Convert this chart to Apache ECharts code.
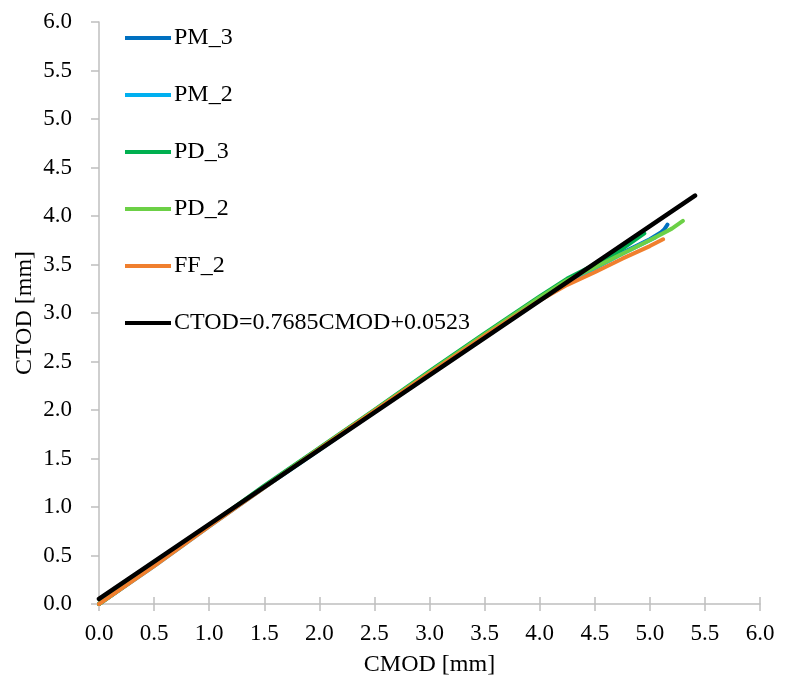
<!DOCTYPE html>
<html>
<head>
<meta charset="UTF-8">
<title>CTOD - CMOD</title>
<script src="https://cdn.jsdelivr.net/npm/echarts@6/dist/echarts.min.js"></script>
<style>
  body { margin: 0; background: #fff; }
  #chart { width: 786px; height: 690px; }
</style>
</head>
<body>
<div id="chart"></div>
<script>
// series names (legend order)
var names = ['PM_3', 'PM_2', 'PD_3', 'PD_2', 'FF_2', 'CTOD=0.7685CMOD+0.0523'];
var colors = ['#0070C0', '#00B0F0', '#00B050', '#6CD046', '#F07F2E', '#000000'];

// [CMOD, CTOD] readings, mm
var pm3 = [[0, 0], [0.5, 0.40], [1.0, 0.81], [1.5, 1.21], [2.0, 1.60], [2.5, 1.99], [3.0, 2.38],
  [3.5, 2.77], [3.75, 2.96], [4.0, 3.15], [4.25, 3.32], [4.5, 3.47], [4.75, 3.62], [5.0, 3.76],
  [5.1, 3.83], [5.13, 3.86], [5.16, 3.91]];
var pm2 = [[0, 0], [0.5, 0.39], [1.0, 0.80], [1.5, 1.20], [2.0, 1.59], [2.5, 1.98], [3.0, 2.37],
  [3.5, 2.76], [3.75, 2.95], [4.0, 3.14], [4.25, 3.31], [4.5, 3.46], [4.75, 3.61], [5.05, 3.78]];
var pd3 = [[0, 0], [0.5, 0.40], [1.0, 0.81], [1.5, 1.22], [2.0, 1.61], [2.5, 2.00], [3.0, 2.40],
  [3.5, 2.79], [3.75, 2.98], [4.0, 3.17], [4.25, 3.355], [4.5, 3.50], [4.75, 3.66], [4.95, 3.82]];
var pd2 = [[0, 0], [0.5, 0.40], [1.0, 0.81], [1.5, 1.21], [2.0, 1.605], [2.5, 1.995], [3.0, 2.39],
  [3.5, 2.78], [3.75, 2.97], [4.0, 3.16], [4.25, 3.34], [4.5, 3.47], [4.75, 3.61], [5.0, 3.75],
  [5.2, 3.87], [5.3, 3.95]];
var ff2 = [[0, 0], [0.5, 0.39], [1.0, 0.80], [1.5, 1.20], [2.0, 1.60], [2.5, 1.99], [3.0, 2.38],
  [3.5, 2.765], [3.75, 2.95], [4.0, 3.13], [4.25, 3.29], [4.5, 3.42], [4.75, 3.56], [5.0, 3.69],
  [5.12, 3.76]];
// linear fit
var fit = [[0, 0.0523], [5.41, 4.21]];

var ticks = ['0.0', '0.5', '1.0', '1.5', '2.0', '2.5', '3.0', '3.5', '4.0', '4.5', '5.0', '5.5', '6.0'];

var serif = '"Liberation Serif", "DejaVu Serif", serif';
var axisGray = '#BFBFBF';

var chart = echarts.init(document.getElementById('chart'));

function line(i, data) {
  return {
    name: names[i],
    type: 'line',
    data: data,
    showSymbol: false,
    symbol: 'none',
    smooth: false,
    z: i == 5 ? 10 : 2 + i,
    lineStyle: { color: colors[i], width: i == 5 ? 4.5 : 4, cap: 'round' },
    itemStyle: { color: colors[i] }
  };
}

var option = {
  animation: false,
  backgroundColor: '#fff',
  grid: { left: 99, right: 26, top: 22, bottom: 86 },
  legend: {
    data: names,
    orient: 'vertical',
    left: 120,
    top: 21,
    icon: 'rect',
    itemWidth: 46,
    itemHeight: 4,
    itemGap: 33,
    textStyle: { fontFamily: serif, fontSize: 24, color: '#000', padding: [0, 0, 0, -2] }
  },
  xAxis: [{
    type: 'value',
    min: 0, max: 6, interval: 0.5,
    name: 'CMOD [mm]',
    nameLocation: 'middle',
    nameGap: 49,
    nameMoveOverlap: false,
    nameTextStyle: { fontFamily: serif, fontSize: 24, color: '#000' },
    axisLine: { show: true, lineStyle: { color: axisGray, width: 1.5 } },
    axisTick: { show: true, length: 7, lineStyle: { color: axisGray, width: 1.5 } },
    splitLine: { show: false },
    axisLabel: {
      margin: 18, fontFamily: serif, fontSize: 23, color: '#000',
      formatter: function (v) { return ticks[Math.round(v / 0.5)]; }
    }
  }, {
    type: 'value',
    position: 'bottom',
    min: 0, max: 6, interval: 0.5,
    axisLine: { show: false },
    axisTick: { show: true, inside: true, length: 7, lineStyle: { color: axisGray, width: 1.5 } },
    axisLabel: { show: false },
    splitLine: { show: false }
  }],
  yAxis: {
    type: 'value',
    min: 0, max: 6, interval: 0.5,
    name: 'CTOD [mm]',
    nameLocation: 'middle',
    nameGap: 62,
    nameMoveOverlap: false,
    nameTextStyle: { fontFamily: serif, fontSize: 24, color: '#000' },
    axisLine: { show: true, lineStyle: { color: axisGray, width: 1.5 } },
    axisTick: { show: true, length: 8, lineStyle: { color: axisGray, width: 1.5 } },
    splitLine: { show: false },
    axisLabel: {
      margin: 27, fontFamily: serif, fontSize: 23, color: '#000',
      formatter: function (v) { return ticks[Math.round(v / 0.5)]; }
    }
  },
  series: [
    line(0, pm3),
    line(1, pm2),
    line(2, pd3),
    line(3, pd2),
    line(4, ff2),
    line(5, fit)
  ]
};

chart.setOption(option);
</script>
</body>
</html>
